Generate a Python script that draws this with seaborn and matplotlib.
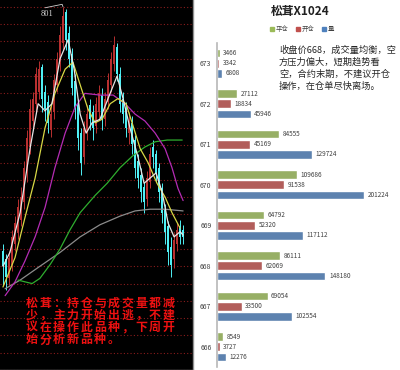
import numpy as np
import pandas as pd
import matplotlib
matplotlib.use("Agg")
import matplotlib.pyplot as plt
import seaborn as sns

# ---- right chart data ----
contracts = ['673', '672', '671', '670', '669', '668', '667', '666']
close_pos = [3466, 27112, 84555, 109686, 64792, 86111, 69054, 8549]
open_pos = [3342, 18834, 45169, 91538, 52320, 62069, 33500, 3727]
volume = [6808, 45946, 129724, 201224, 117112, 148180, 102554, 12276]
series_names = ['平仓', '开仓', '量']
bar_colors = ['#9bbb59', '#c0504d', '#4f81bd']

chart_title = '松茸X1024'
note_lines = ['收盘价668，成交量均衡，空', '方压力偏大，短期趋势看', '空，合约末期，不建议开仓',
              '操作，在仓单尽快离场。']
red_lines = ['松茸：持仓与成交量都减', '少，主力开始出逃，不建', '议在操作此品种，下周开',
             '始分析新品种。']

# ---- left candlestick data ----
opens = [660, 655, 644, 652, 664, 670, 678, 688, 705, 720, 735, 745, 752, 766, 752, 746, 730, 740, 756, 768,
         780, 798, 786, 774, 758, 745, 728, 714, 728, 744, 740, 732, 740, 750, 736, 746, 756, 768, 778, 762,
         748, 742, 728, 734, 724, 712, 704, 697, 690, 700, 720, 716, 708, 696, 684, 674, 662, 655, 664, 674, 672]
closes = [651, 645, 656, 668, 676, 685, 691, 708, 725, 742, 748, 762, 765, 748, 742, 734, 739, 759, 771, 785,
          796, 782, 771, 754, 742, 725, 711, 731, 739, 736, 731, 745, 751, 736, 748, 759, 771, 779, 762, 745,
          739, 731, 734, 722, 708, 702, 694, 688, 702, 716, 714, 705, 694, 682, 671, 659, 652, 666, 672, 668, 668]
highs = [664, 658, 660, 672, 680, 690, 697, 712, 730, 748, 752, 766, 770, 768, 756, 750, 745, 762, 775, 790,
         801, 800, 790, 777, 762, 748, 731, 735, 744, 748, 744, 749, 756, 754, 752, 763, 775, 784, 780, 766,
         752, 746, 740, 738, 727, 716, 708, 700, 706, 720, 724, 718, 711, 699, 687, 677, 668, 670, 676, 678, 675]
lows = [640, 637, 640, 648, 660, 667, 674, 684, 700, 716, 730, 740, 748, 740, 735, 728, 726, 736, 752, 764,
        776, 776, 766, 750, 736, 718, 704, 710, 724, 730, 724, 728, 736, 730, 732, 742, 752, 764, 758, 740,
        734, 726, 722, 716, 702, 696, 688, 682, 686, 696, 708, 700, 688, 676, 664, 652, 645, 650, 660, 664, 664]

# moving average lines: (bar index, price)
ma_white_x = [0, 2.3, 5.7, 9, 11.7, 14, 16.3, 19, 21.7, 23.7, 25.7, 27.7, 29.7, 32.3, 35, 38, 40, 42.3, 45, 47,
              49, 51, 53, 55, 57, 59, 60]
ma_white_y = [651, 659, 682, 719, 745, 741, 745, 771, 782, 765, 739, 728, 734, 736, 748, 761, 748, 731, 714, 699,
              702, 705, 694, 676, 668, 671, 669]
ma_yellow_x = [0, 4, 7.3, 10.7, 14, 17.3, 20.7, 23.3, 25.7, 28.3, 30.7, 33, 35.7, 38.3, 41, 43, 45.7, 48.3,
               51.3, 54, 56.3, 59]
ma_yellow_y = [639, 656, 679, 702, 731, 751, 765, 769, 756, 742, 734, 736, 745, 748, 745, 734, 719, 711, 699,
               691, 682, 673]
ma_magenta_x = [0.7, 4, 7.3, 10.7, 14, 17.3, 20.7, 24, 27.3, 32.3, 36.7, 40.7, 44, 47.3, 50.7, 54, 56.3, 58.3, 60]
ma_magenta_y = [634, 642, 654, 668, 685, 708, 728, 743, 751, 750, 750, 745, 739, 735, 728, 719, 708, 696, 689]
ma_green_x = [5, 7.3, 9.7, 12.3, 15.7, 19, 22.3, 25.7, 30.7, 34.7, 39, 43.3, 47.3, 50.7, 54.7, 59.7]
ma_green_y = [643, 642, 641, 644, 652, 661, 672, 682, 692, 699, 708, 715, 720, 723, 724, 724]
ma_grey_x = [0.7, 5.7, 12.3, 19, 25.7, 32.3, 39, 44, 49, 54, 60]
ma_grey_y = [638, 643, 651, 659, 668, 675, 680, 683, 684, 684, 683]

W, H = 400, 370
fig = plt.figure(figsize=(W / 100, H / 100), dpi=100)
sns.set_style('white')
plt.rcParams['font.family'] = ['Noto Sans CJK SC', 'DejaVu Sans']

# ---------------- left: candlestick panel ----------------
axl = fig.add_axes([0, 0, 193 / W, 1])
axl.set_facecolor('black')
idx = np.arange(len(closes))
o = np.array(opens)
c = np.array(closes)
up = c >= o
cols = np.where(up, '#b83030', '#4ff0f5')
axl.vlines(idx, lows, highs, colors=cols, lw=0.7, zorder=2)
axl.bar(idx, np.abs(c - o), bottom=np.minimum(o, c), width=0.72, color=cols, zorder=3, linewidth=0)

for xs, ys, col in [(ma_grey_x, ma_grey_y, '#8c8c8c'), (ma_green_x, ma_green_y, '#2fae2f'),
                    (ma_magenta_x, ma_magenta_y, '#b42cb4'), (ma_yellow_x, ma_yellow_y, '#d8d845'),
                    (ma_white_x, ma_white_y, '#e6e6e6')]:
    sns.lineplot(x=xs, y=ys, ax=axl, color=col, lw=0.9, sort=False, estimator=None, zorder=4)

axl.set_xlim(-1, 63.3)
axl.set_ylim(805 - H / 1.75, 805)
axl.set_yticks(np.arange(801, 590, -10))
axl.set_xticks([])
axl.tick_params(left=False, labelleft=False)
axl.grid(axis='y', color='#8a1c1c', ls=(0, (1, 2)), lw=0.8)
axl.set_axisbelow(True)
for s in axl.spines.values():
    s.set_color('#909090')
    s.set_linewidth(1)
axl.spines['left'].set_visible(False)
axl.spines['top'].set_visible(False)

# peak label
axl.plot([14, 19.7, 20], [800.5, 802.5, 801], color='#d0d0d0', lw=0.6, zorder=5)
axl.text(12.7, 797, '801', color='#d8d8d8', fontsize=6, family='Liberation Serif', va='center', zorder=5)

# red comment, characters set on a wide pitch like the original
for k, line in enumerate(red_lines):
    for j, ch in enumerate(line):
        fig.text((25 + 13.65 * j + 6.8) / W, 1 - (303 + 12.3 * k) / H, ch, color='#ee1111', fontsize=8.6,
                 fontweight='bold', va='center', ha='center')

# ---------------- right: grouped horizontal bars ----------------
df = pd.DataFrame({'contract': contracts * 3,
                   'value': close_pos + open_pos + volume,
                   'series': [series_names[0]] * 8 + [series_names[1]] * 8 + [series_names[2]] * 8})

axr = fig.add_axes([217 / W, 1 - 367 / H, 183 / W, (367 - 43) / H])
sns.barplot(data=df, y='contract', x='value', hue='series', order=contracts, hue_order=series_names,
            palette=bar_colors, orient='h', width=0.75, gap=0.15, ax=axr, legend=False)
for cont in axr.containers:
    axr.bar_label(cont, labels=[f'{v:.0f}' for v in cont.datavalues], padding=2.5, fontsize=4.6,
                  color='#404040')
axr.set_xlim(0, 250000)
axr.set_xlabel('')
axr.set_ylabel('')
axr.set_xticks([])
axr.tick_params(axis='y', length=0, pad=4, labelsize=5, labelcolor='#404040')
for side in ['top', 'right', 'bottom']:
    axr.spines[side].set_visible(False)
axr.spines['left'].set_color('#b8b8b8')
axr.spines['left'].set_linewidth(1.2)
axr.patch.set_alpha(0)

fig.text(300 / W, 1 - 12 / H, chart_title, fontsize=8.5, fontweight='bold', ha='center', va='center',
         color='#202020')

handles = [plt.Rectangle((0, 0), 1, 1, color=col) for col in bar_colors]
fig.legend(handles, series_names, loc='center', bbox_to_anchor=(302 / W, 1 - 29 / H), ncol=3, frameon=False,
           fontsize=4.6, handlelength=0.6, handleheight=0.6, handletextpad=0.3, columnspacing=1.2,
           labelcolor='#404040')

for k, line in enumerate(note_lines):
    fig.text(279 / W, 1 - (50 + 12 * k) / H, line, fontsize=6.65, color='#262626', va='center', ha='left')

fig.savefig('out.png', dpi=100)
